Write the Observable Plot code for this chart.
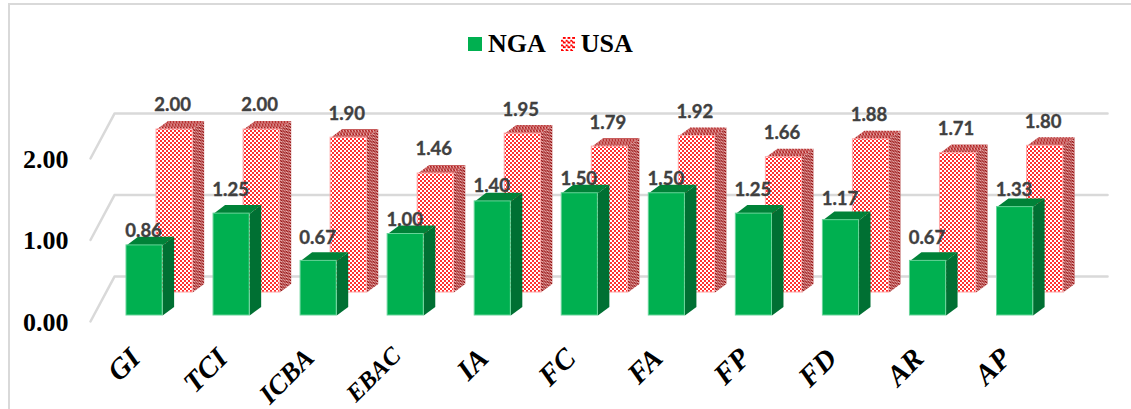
<!DOCTYPE html>
<html>
<head>
<meta charset="utf-8">
<script src="https://cdn.jsdelivr.net/npm/d3@7"></script>
<script src="https://cdn.jsdelivr.net/npm/@observablehq/plot@0.6"></script>
<style>
  html, body { margin: 0; padding: 0; background: #fff; overflow: hidden; }
  #chart { position: relative; width: 1131px; height: 409px; }
  #chart svg.plot { display: block; position: absolute; left: 0; top: 0; }
  .frame-top { position: absolute; left: 8px; right: 0; top: 3px; height: 2px; background: #d9d9d9; }
  .frame-left { position: absolute; left: 8px; top: 3px; bottom: 0; width: 2px; background: #d9d9d9; }
  .legend { position: absolute; top: 29px; left: 468px; display: flex; align-items: center; height: 30px;
            font: bold 26px "Liberation Serif", serif; color: #000; }
  .swatch { width: 14px; height: 14px; margin-right: 6px; }
  .swatch.nga { background: #00b050; }
  .swatch.usa { margin-left: 15px; background: repeating-conic-gradient(#f00 0 25%, #fff 0 50%) 0 0 / 4.67px 4.67px; }
</style>
</head>
<body>
<div id="chart">
  <div class="frame-top"></div>
  <div class="frame-left"></div>
  <div class="legend">
    <span class="swatch nga"></span><span>NGA</span>
    <span class="swatch usa"></span><span>USA</span>
  </div>
</div>
<script>
const categories = ["GI", "TCI", "ICBA", "EBAC", "IA", "FC", "FA", "FP", "FD", "AR", "AP"];
const nga = [0.86, 1.25, 0.67, 1.00, 1.40, 1.50, 1.50, 1.25, 1.17, 0.67, 1.33];
const usa = [2.00, 2.00, 1.90, 1.46, 1.95, 1.79, 1.92, 1.66, 1.88, 1.71, 1.80];
const axisTicks = [0, 1, 2];

// How far each NGA value label sits above its bar, in pixels.
const ngaLabelLift = [14, 24, 23, 14, 15, 14, 14, 24, 21, 23, 17];
// Type size of each category label; the longest ones are set smaller to fit.
const categorySizes = [29, 29, 27, 24.5, 29, 29, 29, 29, 29, 29, 29];

// Oblique projection, in scale units: bar width and depth, and the shift of
// each series row and of the wall behind the bars.
const barWidth = 0.415;
const depthX = 0.132, depthY = 0.105;
const usaShiftX = 0.345, usaShiftY = 0.282;
const wallFront = {x: -0.4136, y: -0.0736};
const wallBack = {x: -0.138, y: 0.478};
const wallEnd = 11.27;

// Faces of one row of prisms as labelled polygons.
function prisms(values, sx, sy) {
  const front = [], side = [], top = [];
  values.forEach((v, i) => {
    const x0 = i + sx, x1 = x0 + barWidth, y0 = sy, y1 = v + sy;
    front.push({i, x1: x0, x2: x1, y1: y0, y2: y1});
    [[x1, y0], [x1 + depthX, y0 + depthY], [x1 + depthX, y1 + depthY], [x1, y1]]
      .forEach(([x, y]) => side.push({i, x, y}));
    [[x0, y1], [x1, y1], [x1 + depthX, y1 + depthY], [x0 + depthX, y1 + depthY]]
      .forEach(([x, y]) => top.push({i, x, y}));
  });
  return {front, side, top};
}

const green = prisms(nga, 0, 0);
const red = prisms(usa, usaShiftX, usaShiftY);

// Grid lines run along the side wall, then along the back wall.
const grid = axisTicks.flatMap(t => [
  {t, x: wallFront.x, y: t + wallFront.y},
  {t, x: wallBack.x, y: t + wallBack.y},
  {t, x: wallEnd, y: t + wallBack.y}
]);

const face = (data, fill) => Plot.line(data, {x: "x", y: "y", z: "i", fill, stroke: "none", curve: "linear"});
const frontFace = (data, fill, stroke) => Plot.rect(data, {x1: "x1", x2: "x2", y1: "y1", y2: "y2", fill, stroke, strokeWidth: 1});

// Checked fills for the USA bars.
function patterns() {
  const defs = d3.create("svg:defs");
  const checks = (id, on, off, size, transform) => {
    const p = defs.append("pattern").attr("id", id).attr("patternUnits", "userSpaceOnUse")
      .attr("width", size * 2).attr("height", size * 2);
    if (transform) p.attr("patternTransform", transform);
    p.append("rect").attr("width", size * 2).attr("height", size * 2).attr("fill", off);
    p.append("rect").attr("width", size).attr("height", size).attr("fill", on);
    p.append("rect").attr("x", size).attr("y", size).attr("width", size).attr("height", size).attr("fill", on);
  };
  checks("usa-front", "#ff3030", "#ffffff", 2);
  checks("usa-side", "#960f0f", "#e8b0b0", 1.5, "skewY(-38)");
  checks("usa-top", "#a80a0a", "#e8b0b0", 1.5, "skewX(-52)");
  return defs.node();
}

const valueText = {
  text: (d) => d.toFixed(2), fontSize: 18.5, fontWeight: 700, fontFamily: "Lato",
  fill: "#404040", stroke: "#404040", strokeWidth: 0.35
};

const chart = Plot.plot({
  width: 1131,
  height: 409,
  margin: 0,
  x: {domain: [0, 10], range: [126, 996.5], axis: null},
  y: {domain: [0, 2], range: [315, 152], axis: null},
  style: {background: "transparent"},
  marks: [
    patterns,
    Plot.line(grid, {x: "x", y: "y", z: "t", stroke: "#d9d9d9", strokeWidth: 2.5, curve: "linear"}),

    face(red.side, "url(#usa-side)"),
    face(red.top, "url(#usa-top)"),
    frontFace(red.front, "url(#usa-front)", "#ffa8a8"),

    face(green.side, "#007033"),
    face(green.top, "#008238"),
    frontFace(green.front, "#00b050", "#66d498"),

    // Series values
    Plot.text(usa, {
      ...valueText, x: (d, i) => i + usaShiftX + barWidth / 2, y: (d) => d + usaShiftY,
      dx: -2, dy: -24
    }),
    ...nga.map((v, i) => Plot.text([v], {
      ...valueText, x: () => i + barWidth / 2, y: (d) => d,
      dx: -1, dy: -ngaLabelLift[i]
    })),

    // Value axis labels
    Plot.text(axisTicks, {
      x: () => wallFront.x, y: (d) => d + wallFront.y, text: (d) => d.toFixed(2),
      dx: -22, dy: 1, textAnchor: "end", fontSize: 26, fontWeight: 700,
      fontFamily: "Liberation Serif", fill: "#000"
    }),

    // Category labels
    ...categories.map((c, i) => Plot.text([c], {
      x: () => i, y: () => 0, text: (d) => d,
      dx: 9, dy: i === 3 ? 36 : 38, rotate: -45, textAnchor: "end", lineAnchor: "middle",
      fontSize: categorySizes[i], fontWeight: 700, fontStyle: "italic",
      fontFamily: "Liberation Serif", fill: "#000"
    }))
  ]
});
chart.classList.add("plot");
document.getElementById("chart").appendChild(chart);
</script>
</body>
</html>
